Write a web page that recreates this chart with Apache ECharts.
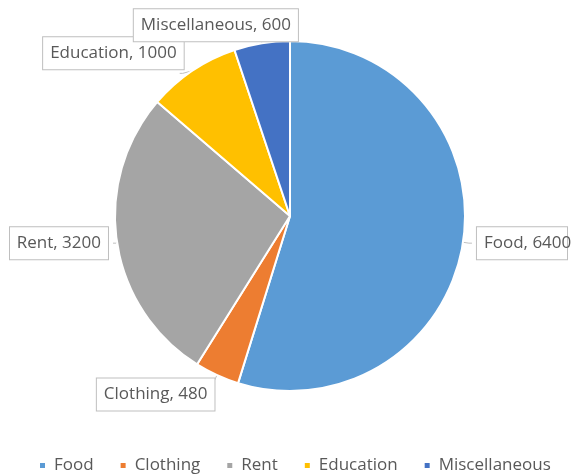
<!DOCTYPE html>
<html><head><meta charset="utf-8">
<script src="https://cdn.jsdelivr.net/npm/echarts@6/dist/echarts.min.js"></script>
<style>html,body{margin:0;padding:0;background:#fff}#c{width:577px;height:475px}</style>
</head><body><div id="c"></div>
<script>
const categories = ['Food', 'Clothing', 'Rent', 'Education', 'Miscellaneous'];
const values = [6400, 480, 3200, 1000, 600];
const colors = ['#5B9BD5', '#ED7D31', '#A5A5A5', '#FFC000', '#4472C4'];

// small label nudges (style only)
const labelNudge = {1: [8, 14], 3: [9, -20], 4: [45, -12]};

const chart = echarts.init(document.getElementById('c'), null, {renderer: 'canvas'});
chart.setOption({
  animation: false,
  color: colors,
  legend: {
    top: 452,
    left: 33,
    itemWidth: 7, itemHeight: 7, itemGap: 25,
    icon: 'rect',
    textStyle: {fontFamily: 'Open Sans', fontSize: 17, color: '#595959', padding: [0, 0, 0, 3]},
    data: categories
  },
  series: [{
    type: 'pie',
    center: [290, 216],
    radius: 175,
    startAngle: 90,
    clockwise: true,
    itemStyle: {borderColor: '#fff', borderWidth: 2},
    label: {
      show: true,
      position: 'outside',
      formatter: '{b}, {c}',
      fontFamily: 'Open Sans',
      fontSize: 17,
      lineHeight: 21,
      color: '#595959',
      backgroundColor: '#fff',
      borderColor: '#bfbfbf',
      borderWidth: 1,
      padding: [6, 7, 5, 7],
      overflow: 'none',
      edgeDistance: 2
    },
    labelLine: {show: true, length: 6, length2: 3, lineStyle: {color: '#bfbfbf'}},
    labelLayout: function (p) {
      const n = labelNudge[p.dataIndex];
      return n ? {dx: n[0], dy: n[1]} : {};
    },
    data: categories.map((n, i) => ({name: n, value: values[i]}))
  }]
});
</script></body></html>
